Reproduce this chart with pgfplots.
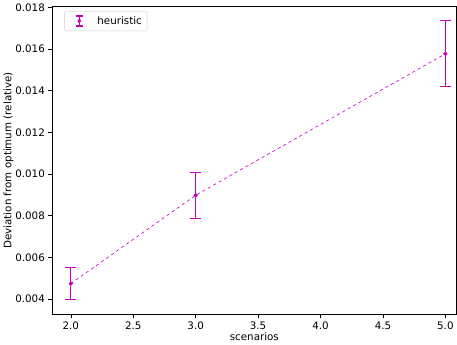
\documentclass[border=0pt]{standalone}
\usepackage{pgfplots}
\pgfplotsset{compat=1.18}
\usepackage{fontspec}
\setmainfont{DejaVu Sans}
\definecolor{mpm}{HTML}{BF00BF}
\begin{document}
\begin{tikzpicture}
\begin{axis}[
  scale only axis,
  width=391bp, height=298bp,
  xmin=1.85, xmax=5.09,
  ymin=0.00325, ymax=0.01805,
  xtick={2,2.5,3,3.5,4,4.5,5},
  ytick={0.004,0.006,0.008,0.010,0.012,0.014,0.016,0.018},
  xticklabel style={/pgf/number format/.cd,fixed,fixed zerofill,precision=1},
  yticklabel style={/pgf/number format/.cd,fixed,fixed zerofill,precision=3},
  scaled y ticks=false,
  /pgf/number format/assume math mode=true,
  tick align=outside, tick pos=left,
  major tick length=3.5bp,
  tick style={black, line width=0.6pt},
  axis line style={line width=0.6pt},
  ticklabel style={font=\fontsize{10}{12}\selectfont},
  label style={font=\fontsize{10}{12}\selectfont},
  xlabel={scenarios},
  ylabel={Deviation from optimum (relative)},
  xlabel style={yshift=4pt},
  ylabel style={yshift=-5pt},
  legend style={font=\fontsize{10}{12}\selectfont, draw=black!20, rounded corners=2pt, inner sep=3pt, at={(0.03,0.985)}, anchor=north west},
  legend cell align=left,
  legend image code/.code={
    \path[draw=none] (0cm,0cm) -- (0.95cm,0cm);
    \draw[solid, draw=mpm, line width=1.1pt] (0.4cm,-0.17cm) -- (0.4cm,0.17cm);
    \draw[solid, draw=mpm, line width=1.1pt] (0.28cm,-0.17cm) -- (0.52cm,-0.17cm);
    \draw[solid, draw=mpm, line width=1.1pt] (0.28cm,0.17cm) -- (0.52cm,0.17cm);
    \fill[fill=mpm] (0.4cm,0cm) circle (1.8pt);
  },
]
\addplot[color=mpm, dashed, line width=0.6pt, mark=*, mark size=1.8pt, mark options={solid, fill=mpm, draw=mpm}]
  coordinates {
    (2, 0.00474)
    (3, 0.00898)
    (5, 0.01577)
  };
\addlegendentry{heuristic}
\addplot[color=mpm, solid, line width=1.1pt, mark=-, mark size=5.5pt, mark options={solid, line width=1.1pt}, forget plot]
  coordinates {(2, 0.00397) (2, 0.00551)};
\addplot[color=mpm, solid, line width=1.1pt, mark=-, mark size=5.5pt, mark options={solid, line width=1.1pt}, forget plot]
  coordinates {(3, 0.00787) (3, 0.01009)};
\addplot[color=mpm, solid, line width=1.1pt, mark=-, mark size=5.5pt, mark options={solid, line width=1.1pt}, forget plot]
  coordinates {(5, 0.01418) (5, 0.01736)};
\end{axis}
\end{tikzpicture}
\end{document}
